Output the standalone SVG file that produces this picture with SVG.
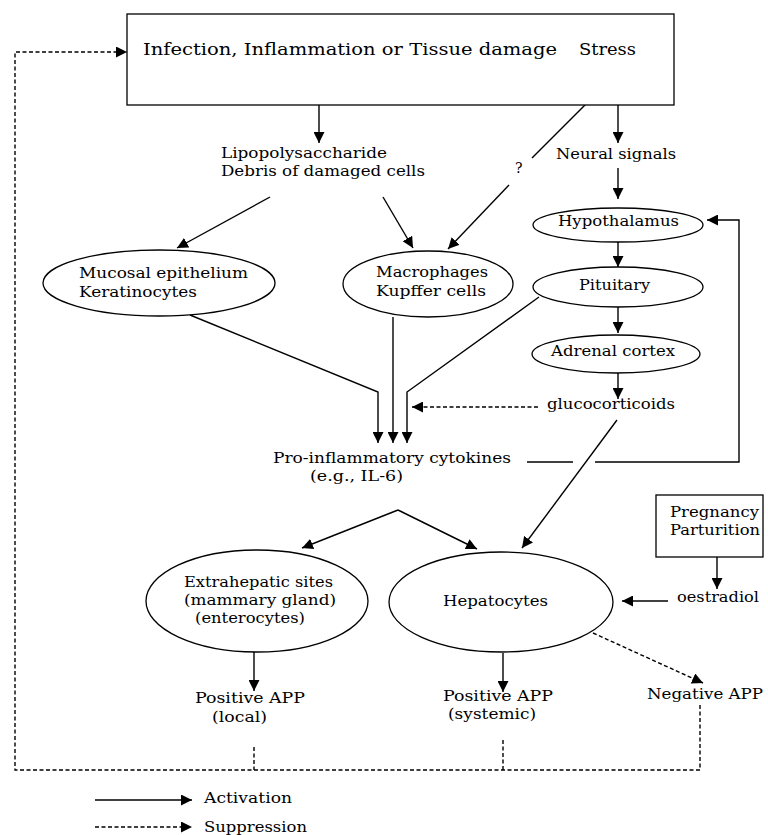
<svg xmlns="http://www.w3.org/2000/svg" width="768" height="835" viewBox="0 0 768 835">
<defs>
<style>
text{font-family:"DejaVu Serif","Liberation Serif",serif;font-size:14px;fill:#000}
.t{font-size:16px}
.n{fill:#fff;stroke:#000;stroke-width:1.3}
.c{fill:none;stroke:#000;stroke-width:1.4}
.d{stroke-dasharray:4 2.5}
.a{marker-end:url(#ah)}
</style>
<marker id="ah" markerUnits="userSpaceOnUse" markerWidth="11" markerHeight="11" refX="11" refY="5.5" orient="auto">
<path d="M0,0 L11,5.5 L0,11 z" fill="#000"/>
</marker>
</defs>
<rect width="768" height="835" fill="#fff"/>
<g id="connectors">
<path class="c a" d="M319,79 L319,143"/>
<path class="c a" d="M618,79 L618,143"/>
<path class="c" d="M610,80 L532,158"/>
<path class="c a" d="M509,185 L448,249"/>
<path class="c a" d="M270,197 L177,248"/>
<path class="c a" d="M383,197 L413,248"/>
<path class="c a" d="M618,168 L618,199"/>
<path class="c a" d="M618,242 L618,267"/>
<path class="c a" d="M618,307 L618,333"/>
<path class="c a" d="M618,373 L618,399"/>
<path class="c d a" d="M538,407 L412,407"/>
<path class="c a" d="M190,315 L378,392 L378,443"/>
<path class="c a" d="M393,317 L393,443"/>
<path class="c a" d="M539,297 L407,392 L407,443"/>
<path class="c" d="M527,462 L573,462"/>
<path class="c a" d="M595,462 L739,462 L739,220 L707,220"/>
<path class="c a" d="M617,420 L522,548"/>
<path class="c a" d="M398,510 L302,548"/>
<path class="c a" d="M398,510 L477,549"/>
<path class="c a" d="M717,557 L717,589"/>
<path class="c a" d="M668,601 L622,601"/>
<path class="c a" d="M254,652 L254,691"/>
<path class="c a" d="M503,653 L503,692"/>
<path class="c d a" d="M593,633 L703,683"/>
<path class="c d" d="M254,747 L254,770"/>
<path class="c d" d="M503,740 L503,770"/>
<path class="c d a" d="M700,705 L700,770 L15,770 L15,52 L127,52"/>
</g>
<g id="source">
<rect class="n" x="127" y="14" width="547" height="91"/>
<text class="t" x="143" y="55" textLength="414" lengthAdjust="spacingAndGlyphs">Infection, Inflammation or Tissue damage</text>
<text class="t" x="579" y="55" textLength="57" lengthAdjust="spacingAndGlyphs">Stress</text>
</g>
<g id="lps">
<text x="221" y="158" textLength="166" lengthAdjust="spacingAndGlyphs">Lipopolysaccharide</text>
<text x="221" y="176" textLength="204" lengthAdjust="spacingAndGlyphs">Debris of damaged cells</text>
</g>
<g id="neural">
<text x="556" y="159" textLength="120" lengthAdjust="spacingAndGlyphs">Neural signals</text>
</g>
<g id="question">
<text x="515" y="173">?</text>
</g>
<g id="mucosal">
<ellipse class="n" cx="159" cy="283" rx="116" ry="33"/>
<text x="79" y="278" textLength="169" lengthAdjust="spacingAndGlyphs">Mucosal epithelium</text>
<text x="79" y="297" textLength="118" lengthAdjust="spacingAndGlyphs">Keratinocytes</text>
</g>
<g id="macrophages">
<ellipse class="n" cx="428" cy="284" rx="85" ry="33"/>
<text x="376" y="277" textLength="112" lengthAdjust="spacingAndGlyphs">Macrophages</text>
<text x="376" y="296" textLength="110" lengthAdjust="spacingAndGlyphs">Kupffer cells</text>
</g>
<g id="hypothalamus">
<ellipse class="n" cx="618" cy="225" rx="85" ry="17"/>
<text x="558" y="226" textLength="121" lengthAdjust="spacingAndGlyphs">Hypothalamus</text>
</g>
<g id="pituitary">
<ellipse class="n" cx="618" cy="287" rx="85" ry="20"/>
<text x="579" y="290" textLength="71" lengthAdjust="spacingAndGlyphs">Pituitary</text>
</g>
<g id="adrenal">
<ellipse class="n" cx="616" cy="354" rx="84" ry="19"/>
<text x="551" y="356" textLength="124" lengthAdjust="spacingAndGlyphs">Adrenal cortex</text>
</g>
<g id="glucocorticoids">
<text x="547" y="409" textLength="128" lengthAdjust="spacingAndGlyphs">glucocorticoids</text>
</g>
<g id="cytokines">
<text x="273" y="463" textLength="238" lengthAdjust="spacingAndGlyphs">Pro-inflammatory cytokines</text>
<text x="310" y="481" textLength="93" lengthAdjust="spacingAndGlyphs">(e.g., IL-6)</text>
</g>
<g id="extrahepatic">
<ellipse class="n" cx="257" cy="601" rx="111" ry="51"/>
<text x="184" y="587" textLength="149" lengthAdjust="spacingAndGlyphs">Extrahepatic sites</text>
<text x="184" y="605" textLength="152" lengthAdjust="spacingAndGlyphs">(mammary gland)</text>
<text x="195" y="623" textLength="110" lengthAdjust="spacingAndGlyphs">(enterocytes)</text>
</g>
<g id="hepatocytes">
<ellipse class="n" cx="501" cy="602" rx="112" ry="50"/>
<text x="443" y="606" textLength="105" lengthAdjust="spacingAndGlyphs">Hepatocytes</text>
</g>
<g id="pregnancy">
<rect class="n" x="656" y="495" width="107" height="62"/>
<text x="670" y="517" textLength="89" lengthAdjust="spacingAndGlyphs">Pregnancy</text>
<text x="670" y="535" textLength="90" lengthAdjust="spacingAndGlyphs">Parturition</text>
</g>
<g id="oestradiol">
<text x="677" y="602" textLength="82" lengthAdjust="spacingAndGlyphs">oestradiol</text>
</g>
<g id="app-local">
<text x="195" y="703" textLength="110" lengthAdjust="spacingAndGlyphs">Positive APP</text>
<text x="212" y="722" textLength="55" lengthAdjust="spacingAndGlyphs">(local)</text>
</g>
<g id="app-systemic">
<text x="443" y="701" textLength="110" lengthAdjust="spacingAndGlyphs">Positive APP</text>
<text x="448" y="719" textLength="88" lengthAdjust="spacingAndGlyphs">(systemic)</text>
</g>
<g id="app-negative">
<text x="647" y="699" textLength="116" lengthAdjust="spacingAndGlyphs">Negative APP</text>
</g>
<g id="legend">
<path class="c a" d="M95,800 L192,800"/>
<text x="204" y="803" textLength="88" lengthAdjust="spacingAndGlyphs">Activation</text>
<path class="c d a" d="M95,827 L192,827"/>
<text x="204" y="832" textLength="103" lengthAdjust="spacingAndGlyphs">Suppression</text>
</g>
</svg>
